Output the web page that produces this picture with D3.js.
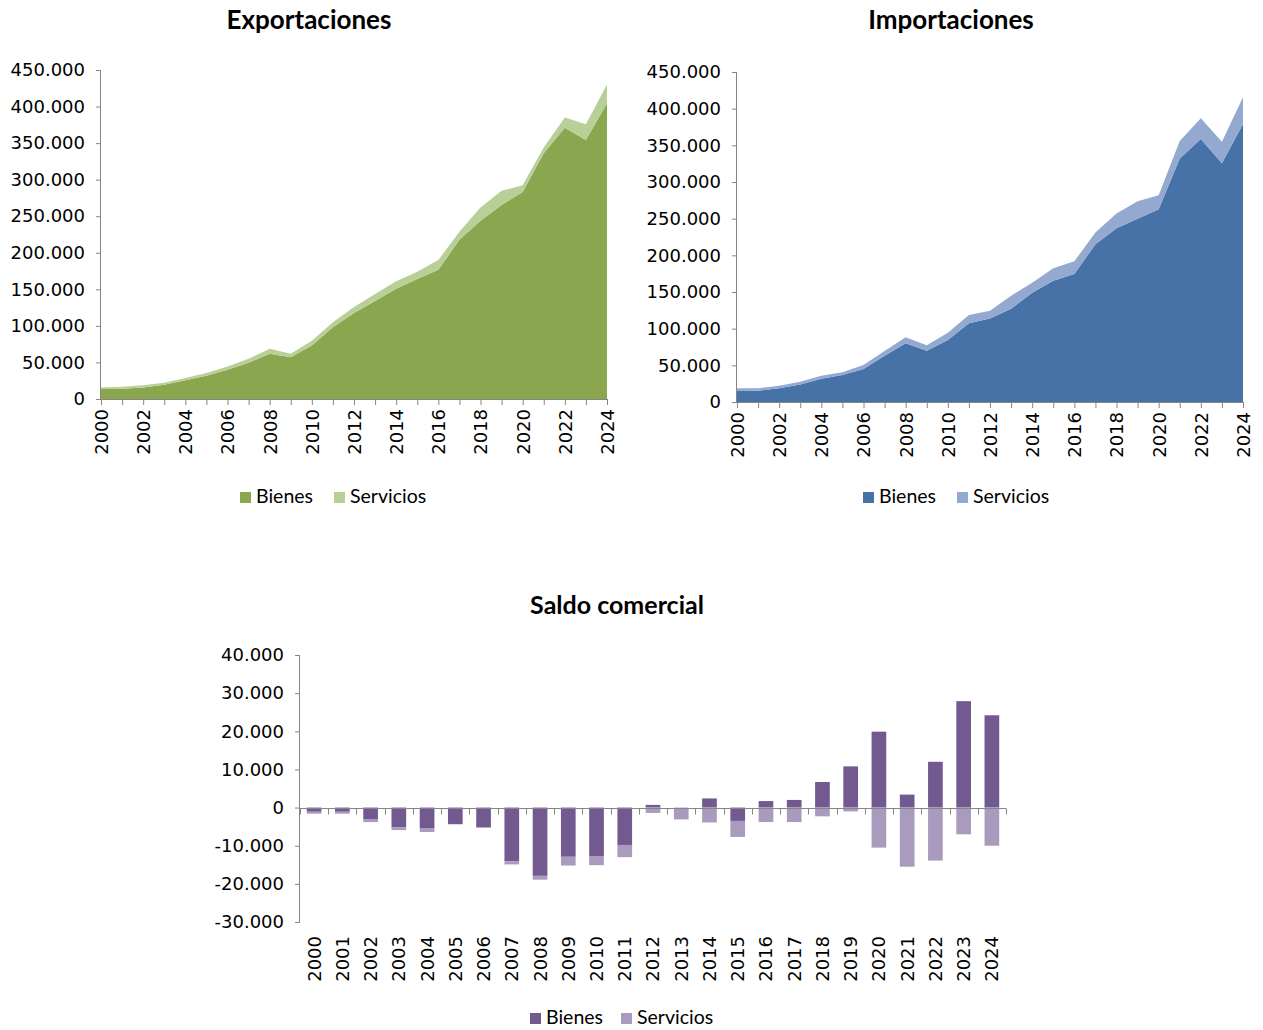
<!DOCTYPE html>
<html><head><meta charset="utf-8">
<script src="https://cdn.jsdelivr.net/npm/d3@7"></script>
<style>
body{margin:0;background:#fff;}
svg{display:block;}
</style></head>
<body>
<svg id="c" width="1263" height="1030"></svg>
<script>
const years = d3.range(2000, 2025).map(String);
// Exportaciones (millones)
const expBienes   = [13700,14100,15900,19600,25500,31900,40000,49600,62000,57000,73300,98000,117500,134000,150800,164000,176700,217700,243700,265500,283300,336000,371000,354400,404500];
const expServicios= [2200,2800,2800,2700,3200,3600,4600,5400,6800,5000,6400,7000,8200,9500,10200,10000,13300,11000,18300,19200,9100,8000,14000,21400,25500];
// Importaciones
const impBienes   = [15000,15500,18600,24000,31800,36800,45000,63200,80000,70000,84500,107300,114000,127000,149000,165400,174500,215000,236800,250000,262700,332000,358600,325400,379000];
const impServicios= [3600,3100,3700,3700,4100,3600,5400,6300,8200,7300,10000,11300,10500,18000,13700,16900,17300,16000,20200,23600,19100,24000,28200,29600,36400];
// Saldo comercial
const salBienes   = [-1100,-1100,-3000,-5200,-5500,-4300,-5200,-14100,-17900,-12900,-12700,-9800,700,0,2400,-3500,1700,2000,6700,10800,19900,3400,12000,27900,24200];
const salServicios= [-500,-500,-800,-700,-900,-100,-100,-800,-1000,-2300,-2400,-3200,-1400,-3100,-3900,-4200,-3800,-3800,-2300,-1000,-10500,-15500,-13900,-7000,-10000];
const seriesNames = ["Bienes","Servicios"];
const titles = ["Exportaciones","Importaciones","Saldo comercial"];
const areaTicks = d3.range(0, 450001, 50000);
const barTicks = d3.range(-30000, 40001, 10000);

const loc = d3.formatLocale({decimal:",", thousands:".", grouping:[3], currency:["","€"], minus:"-"});
const fmt = loc.format(",d");

const svg = d3.select("#c");
const AXIS = "#868686";
const TICKFONT = "'DejaVu Sans', sans-serif";
const TICKSIZE = 18;
const LEGFONT = "Lato, 'Open Sans', sans-serif";
const TITLESIZE = 26;

function legend(g, x0, y, colors, gap2){
  seriesNames.forEach((n,i)=>{
    const x = i===0 ? x0 : x0+gap2;
    g.append("rect").attr("x",x).attr("y",y-11).attr("width",11).attr("height",11).attr("fill",colors[i]);
    g.append("text").attr("x",x+16).attr("y",y).attr("font-family",LEGFONT).attr("font-size",19.5).attr("fill","#000").text(n);
  });
}

function styleText(sel){
  sel.attr("font-family",TICKFONT).attr("font-size",TICKSIZE).attr("fill","#000");
}

function areaChart(cfg){
  const {left,right,top,bottom,bienes,serv,colors,title,titleX,legX} = cfg;
  const g = svg.append("g");
  const x = d3.scalePoint().domain(years).range([left,right]);
  const y = d3.scaleLinear().domain([0,450000]).range([bottom,top]);
  const data = years.map((yr,i)=>({year:yr, Bienes:bienes[i], Servicios:serv[i]}));
  const stack = d3.stack().keys(seriesNames)(data);
  const area = d3.area().x(d=>x(d.data.year)).y0(d=>y(d[0])).y1(d=>y(d[1]));
  g.selectAll("path.a").data(stack).join("path").attr("d",area).attr("fill",(d,i)=>colors[i]);
  // y axis
  const ya = g.append("g").attr("transform",`translate(${left},0)`)
    .call(d3.axisLeft(y).tickValues(areaTicks).tickFormat(fmt).tickSize(5).tickPadding(11));
  ya.attr("font-family",TICKFONT).attr("font-size",TICKSIZE);
  ya.select(".domain").attr("stroke",AXIS).attr("d",`M-0.5,${top}V${bottom}`);
  ya.selectAll(".tick line").attr("stroke",AXIS);
  styleText(ya.selectAll("text"));
  // x axis
  const xa = g.append("g").attr("transform",`translate(0,${bottom})`)
    .call(d3.axisBottom(x).tickSize(6).tickFormat((d,i)=> i%2===0 ? d : ""));
  xa.attr("font-family",TICKFONT).attr("font-size",TICKSIZE);
  xa.select(".domain").attr("stroke",AXIS).attr("d",`M${left},0.5H${right}`);
  xa.selectAll(".tick line").attr("stroke",AXIS);
  styleText(xa.selectAll("text"));
  xa.selectAll("text").attr("transform","rotate(-90)").attr("text-anchor","end").attr("x",-10).attr("y",0).attr("dy","0.36em");
  g.append("text").attr("x",titleX).attr("y",29).attr("text-anchor","middle")
    .attr("font-family",LEGFONT).attr("font-weight","bold").attr("font-size",TITLESIZE).text(title);
  legend(g, legX, 503, colors, 94);
}

areaChart({left:101,right:607,top:70,bottom:399,bienes:expBienes,serv:expServicios,
  colors:["#8aa64f","#b8cf97"],title:titles[0],titleX:309,legX:240});
areaChart({left:737,right:1243,top:72,bottom:402,bienes:impBienes,serv:impServicios,
  colors:["#4672a7","#93a9cf"],title:titles[1],titleX:951,legX:863});

// Saldo comercial
(function(){
  const left=300,right=1006,top=655,bottom=922;
  const colors=["#725990","#a99bbe"];
  const g = svg.append("g");
  const x = d3.scaleBand().domain(years).range([left,right]).paddingInner(0.48).paddingOuter(0.24);
  const xb = d3.scaleBand().domain(years).range([left,right]);
  const y = d3.scaleLinear().domain([-30000,40000]).range([bottom,top]);
  const data = years.map((yr,i)=>({year:yr, Bienes:salBienes[i], Servicios:salServicios[i]}));
  const stack = d3.stack().keys(seriesNames).offset(d3.stackOffsetDiverging)(data);
  g.selectAll("g.s").data(stack).join("g").attr("fill",(d,i)=>colors[i])
    .selectAll("rect").data(d=>d).join("rect")
    .attr("x",d=>x(d.data.year)).attr("width",x.bandwidth())
    .attr("y",d=>y(Math.max(d[0],d[1]))).attr("height",d=>Math.abs(y(d[0])-y(d[1])));
  const ya = g.append("g").attr("transform",`translate(${left},0)`)
    .call(d3.axisLeft(y).tickValues(barTicks).tickFormat(fmt).tickSize(5).tickPadding(11));
  ya.attr("font-family",TICKFONT).attr("font-size",TICKSIZE);
  ya.select(".domain").attr("stroke",AXIS).attr("d",`M-0.5,${top}V${bottom}`);
  ya.selectAll(".tick line").attr("stroke",AXIS);
  styleText(ya.selectAll("text"));
  // zero line with category ticks
  const y0 = Math.round(y(0))+0.5;
  g.append("line").attr("x1",left).attr("x2",right).attr("y1",y0).attr("y2",y0).attr("stroke",AXIS);
  g.selectAll("line.ct").data(years.concat(["end"])).join("line")
    .attr("x1",(d,i)=>Math.round(left+i*xb.step())+0.5).attr("x2",(d,i)=>Math.round(left+i*xb.step())+0.5)
    .attr("y1",y0).attr("y2",y0+6).attr("stroke",AXIS);
  // labels low
  const xl = g.selectAll("text.xl").data(years).join("text")
    .attr("transform",d=>`translate(${xb(d)+xb.bandwidth()/2},${bottom+14}) rotate(-90)`)
    .attr("text-anchor","end").attr("dy","0.36em").text(d=>d);
  styleText(xl);
  g.append("text").attr("x",617).attr("y",614).attr("text-anchor","middle")
    .attr("font-family",LEGFONT).attr("font-weight","bold").attr("font-size",25).text(titles[2]);
  legend(g, 530, 1024, colors, 91);
})();
</script>
</body></html>
